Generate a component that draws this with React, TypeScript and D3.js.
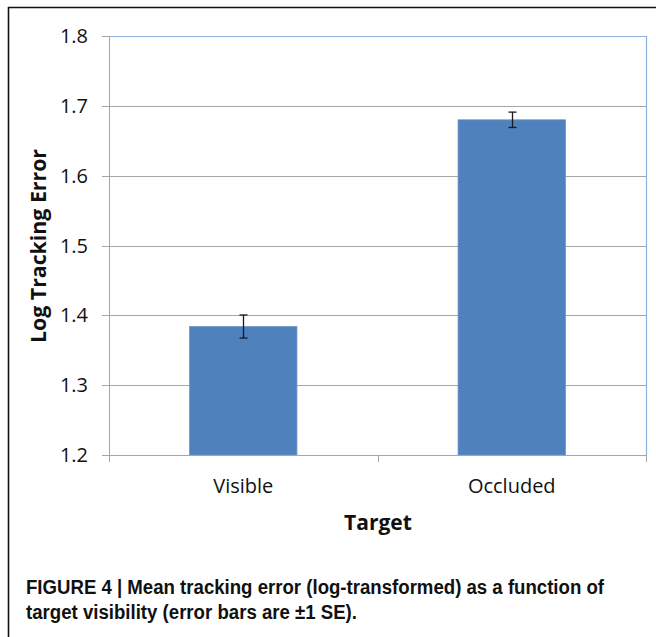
import React from "react";
import * as d3 from "d3";

const categories = ["Visible", "Occluded"];
const means = [1.384, 1.68];
const errors = [0.0165, 0.011];
const yTicks = [1.2, 1.3, 1.4, 1.5, 1.6, 1.7, 1.8];
const yLabel = "Log Tracking Error";
const xLabel = "Target";
const captionLines = [
  "FIGURE 4 | Mean tracking error (log-transformed) as a function of",
  "target visibility (error bars are \u00B11 SE).",
];

const W = 656;
const H = 637;
const left = 109;
const right = 646;
const top = 36;
const bottom = 455;

export default function App() {
  const y = d3.scaleLinear().domain([1.2, 1.8]).range([bottom, top]);
  const x = d3
    .scaleBand<string>()
    .domain(categories)
    .range([left, right])
    .paddingInner(0.6)
    .paddingOuter(0.3);
  const step = x.step();
  const catTicks = d3.range(categories.length + 1).map((i) => left + i * step);
  const font = "'Open Sans', 'DejaVu Sans', sans-serif";
  const capFont = "'Liberation Sans Narrow', 'Liberation Sans', Arial, sans-serif";

  return (
    <svg
      width={W}
      height={H}
      style={{ position: "absolute", left: 0, top: 0, background: "#fff" }}
    >
      <rect x={0} y={0} width={W} height={H} fill="#fff" />
      {/* outer frame */}
      <line x1={8} y1={7.5} x2={W} y2={7.5} stroke="#111" strokeWidth={1.6} />
      <line x1={8.5} y1={7} x2={8.5} y2={H} stroke="#111" strokeWidth={1.6} />

      {/* gridlines */}
      {yTicks.map((t) => (
        <line
          key={t}
          x1={left - 7}
          x2={right}
          y1={Math.round(y(t)) + 0.5}
          y2={Math.round(y(t)) + 0.5}
          stroke="#a6a6a6"
          strokeWidth={1}
        />
      ))}
      {/* plot area border top/right (blue) */}
      <line x1={left} x2={right} y1={top + 0.5} y2={top + 0.5} stroke="#8eb0dc" strokeWidth={1.2} />
      <line x1={right + 0.5} x2={right + 0.5} y1={top} y2={bottom} stroke="#8eb0dc" strokeWidth={1.2} />

      {/* bars */}
      {categories.map((c, i) => (
        <rect
          key={c}
          x={x(c)!}
          y={y(means[i])}
          width={x.bandwidth()}
          height={y(1.2) - y(means[i])}
          fill="#4f81bd"
          stroke="#6f97c9"
          strokeWidth={0.8}
        />
      ))}

      {/* error bars */}
      {categories.map((c, i) => {
        const cx = Math.round(x(c)! + x.bandwidth() / 2) + 0.5;
        const y1 = y(means[i] + errors[i]);
        const y2 = y(means[i] - errors[i]);
        return (
          <g key={c} stroke="#1a1a1a" strokeWidth={1.3}>
            <line x1={cx} x2={cx} y1={y1} y2={y2} />
            <line x1={cx - 4} x2={cx + 4} y1={y1} y2={y1} />
            <line x1={cx - 4} x2={cx + 4} y1={y2} y2={y2} />
          </g>
        );
      })}

      {/* axes */}
      <line x1={left + 0.5} x2={left + 0.5} y1={top} y2={bottom + 7} stroke="#a6a6a6" />
      <line x1={left} x2={right} y1={Math.round(y(1.2)) + 0.5} y2={Math.round(y(1.2)) + 0.5} stroke="#a6a6a6" />
      {catTicks.map((t, i) => (
        <line
          key={i}
          x1={Math.round(t) + 0.5}
          x2={Math.round(t) + 0.5}
          y1={bottom}
          y2={bottom + 7}
          stroke="#a6a6a6"
        />
      ))}

      {/* y tick labels */}
      {yTicks.map((t) => (
        <text
          key={t}
          x={88}
          y={y(t) + 7}
          textAnchor="end"
          fontFamily={font}
          fontSize={20}
          fill="#111"
        >
          {t.toFixed(1)}
        </text>
      ))}

      {/* x tick labels */}
      {categories.map((c) => (
        <text
          key={c}
          x={x(c)! + x.bandwidth() / 2}
          y={493}
          textAnchor="middle"
          fontFamily={font}
          fontSize={20}
          fill="#111"
        >
          {c}
        </text>
      ))}

      {/* axis titles */}
      <text
        x={378}
        y={530}
        textAnchor="middle"
        fontFamily={font}
        fontWeight="bold"
        fontSize={21}
        fill="#111"
      >
        {xLabel}
      </text>
      <text
        transform={`translate(46, 246) rotate(-90)`}
        textAnchor="middle"
        fontFamily={font}
        fontWeight="bold"
        fontSize={21}
        fill="#111"
        textLength={194}
        lengthAdjust="spacingAndGlyphs"
      >
        {yLabel}
      </text>

      {/* caption */}
      {captionLines.map((l, i) => (
        <text
          key={i}
          x={26}
          y={594 + i * 24.5}
          fontFamily={capFont}
          fontWeight="bold"
          fontSize={20}
          fill="#111"
          textLength={i === 0 ? 578 : 331}
          lengthAdjust="spacingAndGlyphs"
        >
          {l}
        </text>
      ))}
    </svg>
  );
}
